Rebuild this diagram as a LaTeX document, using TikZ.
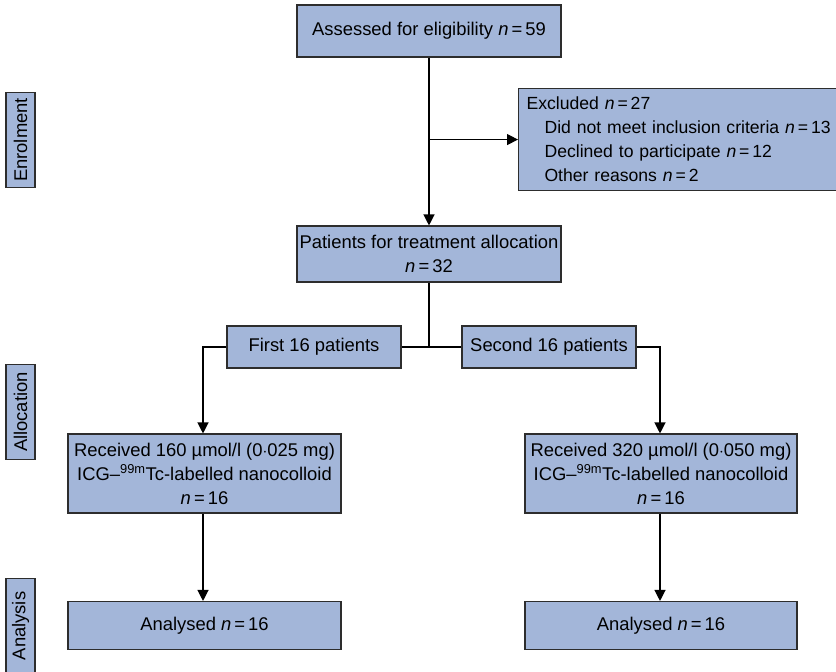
\documentclass[tikz,border=0pt]{standalone}
\usepackage{fontspec}
\setmainfont{Liberation Sans}
\usetikzlibrary{arrows.meta,positioning}

\definecolor{boxblue}{RGB}{163,182,217}
\definecolor{edgegrey}{RGB}{45,45,45}

\tikzset{
  flowbox/.style={draw=edgegrey, fill=boxblue, line width=1.1pt, inner sep=0pt,
                  align=center, font=\fontsize{18.4}{24}\selectfont},
  sidebox/.style={flowbox, rotate=90, minimum width=95pt, minimum height=29pt},
  link/.style={line width=1.2pt, black},
  linkarrow/.style={link, -{Triangle[width=11pt,length=11pt]}}
}

\begin{document}
\begin{tikzpicture}[x=1pt, y=-1pt]
  \useasboundingbox (0,0) rectangle (836,672);

  % side labels
  \node[sidebox] (enrol) at (20.5,140) {Enrolment};
  \node[sidebox] (alloc) at (20.5,412) {Allocation};
  \node[sidebox] (analys) at (20.5,626) {Analysis};

  % enrolment
  \node[flowbox, minimum width=264pt, minimum height=52pt] (assessed) at (429,31)
       {Assessed for eligibility \textit{n}\,=\,59};
  \node[flowbox, anchor=north west, minimum height=102pt, text width=380pt,
        align=left, inner xsep=8pt, font=\fontsize{17.6}{24}\selectfont] (excluded) at (518,88)
       {Excluded \textit{n}\,=\,27\\
        \hspace*{18pt}Did not meet inclusion criteria \textit{n}\,=\,13\\
        \hspace*{18pt}Declined to participate \textit{n}\,=\,12\\
        \hspace*{18pt}Other reasons \textit{n}\,=\,2};
  \node[flowbox, minimum width=264pt, minimum height=56pt] (alloc32) at (429,254)
       {Patients for treatment allocation\\\textit{n}\,=\,32};

  % allocation
  \node[flowbox, minimum width=174pt, minimum height=42pt] (first) at (314,347)
       {First 16 patients};
  \node[flowbox, minimum width=174pt, minimum height=42pt] (second) at (549,347)
       {Second 16 patients};
  \node[flowbox, minimum width=273pt, minimum height=79pt] (dose160) at (204.5,473.5)
       {Received 160 \textmu mol/l (0$\cdot$025 mg)\\
        ICG--\textsuperscript{99m}Tc-labelled nanocolloid\\\textit{n}\,=\,16};
  \node[flowbox, minimum width=272pt, minimum height=79pt] (dose320) at (661,473.5)
       {Received 320 \textmu mol/l (0$\cdot$050 mg)\\
        ICG--\textsuperscript{99m}Tc-labelled nanocolloid\\\textit{n}\,=\,16};

  % analysis
  \node[flowbox, minimum width=273pt, minimum height=48pt] (anaL) at (204.5,625.5)
       {Analysed \textit{n}\,=\,16};
  \node[flowbox, minimum width=272pt, minimum height=48pt] (anaR) at (661,625.5)
       {Analysed \textit{n}\,=\,16};

  % connectors
  \coordinate (split) at (assessed.south |- excluded.west);
  \coordinate (join) at (alloc32.south |- first.east);
  \draw[linkarrow] (assessed.south) -- (alloc32.north);
  \draw[linkarrow] (split) -- (excluded.west);
  \draw[link] (alloc32.south) -- (join);
  \draw[link] (first.east) -- (second.west);
  \draw[linkarrow] (first.west) -| (dose160.north -| 203,0);
  \draw[linkarrow] (second.east) -| (dose320.north -| 660,0);
  \draw[linkarrow] (dose160.south -| 203,0) -- (anaL.north -| 203,0);
  \draw[linkarrow] (dose320.south -| 660,0) -- (anaR.north -| 660,0);
\end{tikzpicture}
\end{document}
